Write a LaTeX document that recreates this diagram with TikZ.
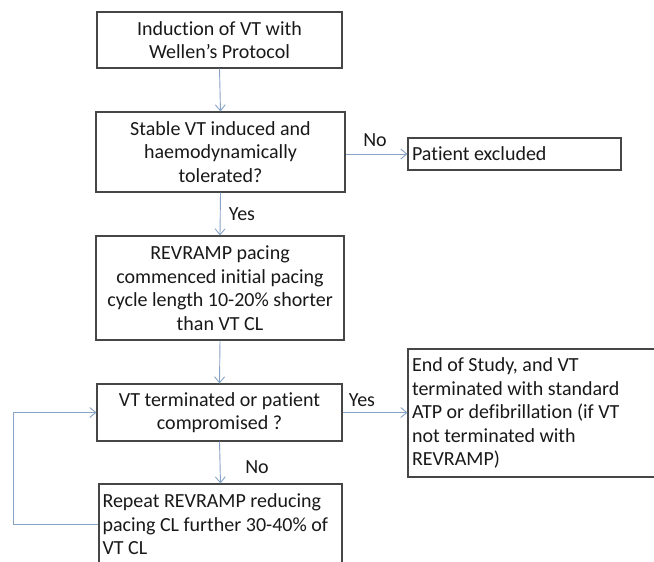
\documentclass[tikz,border=0pt]{standalone}
\usepackage{fontspec}
\setmainfont[Ligatures=NoCommon]{Carlito}
\usetikzlibrary{arrows.meta}
\definecolor{conn}{RGB}{135,163,198}
\definecolor{boxline}{RGB}{70,70,70}
\definecolor{txt}{RGB}{25,25,25}
\tikzset{
  box/.style={draw=boxline, line width=1.1pt, rectangle, inner sep=0pt, align=center,
    text=txt, font=\fontsize{20}{23.5}\selectfont},
  lbox/.style={box, align=flush left},
  arr/.style={draw=conn, line width=0.9pt, -{Straight Barb[length=6pt,width=10pt]}},
  lbl/.style={text=txt, font=\fontsize{20}{23.5}\selectfont, inner sep=0pt}
}
\begin{document}
\begin{tikzpicture}[x=1pt,y=-1pt]
\clip (0,0) rectangle (654,562);
\fill[white] (0,0) rectangle (654,562);
\node[box, minimum width=245pt, minimum height=56pt] (b1) at (219.5,40) {Induction of VT with\\Wellen’s Protocol};
\node[box, minimum width=249pt, minimum height=80pt] (b2) at (220.5,152) {Stable VT induced and\\haemodynamically\\tolerated?};
\node[lbox, minimum width=213pt, minimum height=32pt, text width=205pt, inner xsep=4pt] (pe) at (514.5,154) {Patient excluded};
\node[box, minimum width=248pt, minimum height=104pt] (b3) at (220,288) {REVRAMP pacing\\commenced initial pacing\\cycle length 10-20\% shorter\\than VT CL};
\node[box, minimum width=245pt, minimum height=57pt] (b4) at (219.5,412.5) {VT terminated or patient\\compromised ?};
\node[lbox, minimum width=250pt, minimum height=128pt, text width=242pt, inner xsep=4pt] (end) at (533,413) {End of Study, and VT\\terminated with standard\\ATP or defibrillation (if VT\\not terminated with\\REVRAMP)};
\node[lbox, minimum width=243pt, minimum height=81pt, text width=236pt, inner xsep=3.5pt] (b5) at (220.5,524.5) {Repeat REVRAMP reducing\\pacing CL further 30-40\% of\\VT CL};
\coordinate (L) at (13,0);
\draw[arr] (b1.south) -- (b2.north);
\draw[arr] (b2.south) -- (b3.north);
\draw[arr] (b3.south) -- (b4.north);
\draw[arr] (b4.south) -- (b5.north);
\draw[arr] (b2.east |- pe.west) -- (pe.west);
\draw[arr] (b4.east) -- (end.west |- b4.east);
\draw[arr] (b5.west) -- (b5.west -| L) |- (b4.west);
\node[lbl] (no1) at (375,140) {No};
\node[lbl] (yes1) at (242,214) {Yes};
\node[lbl] (yes2) at (362,400) {Yes};
\node[lbl] (no2) at (257,467) {No};
\end{tikzpicture}
\end{document}
